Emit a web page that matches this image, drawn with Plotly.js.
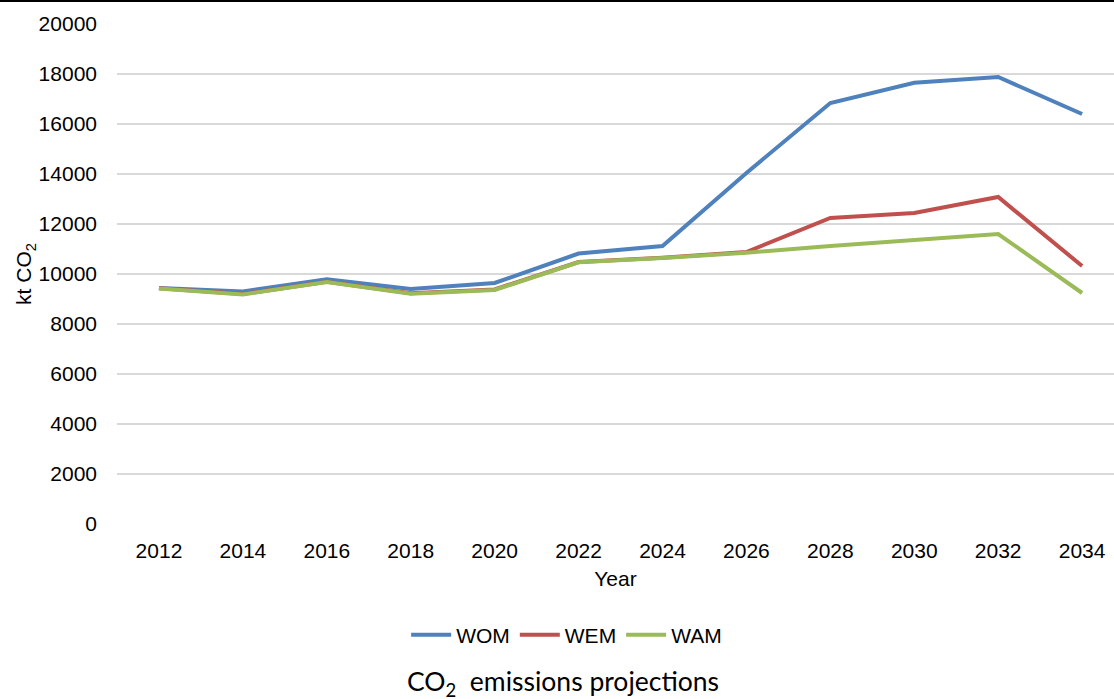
<!DOCTYPE html>
<html>
<head>
<meta charset="utf-8">
<script src="https://cdn.plot.ly/plotly-3.0.1.min.js"></script>
<style>
  html, body { margin: 0; padding: 0; background: #fff; }
  #chart { width: 1114px; height: 699px; box-sizing: border-box; border-top: 2px solid #000; }
</style>
</head>
<body>
<div id="chart"></div>
<script>
const years = ["2012","2014","2016","2018","2020","2022","2024","2026","2028","2030","2032","2034"];
const wom = [9440, 9300, 9790, 9400, 9640, 10820, 11120, 14040, 16840, 17650, 17880, 16400];
const wem = [9430, 9200, 9690, 9230, 9380, 10480, 10650, 10880, 12240, 12440, 13080, 10320];
const wam = [9420, 9180, 9680, 9210, 9360, 10470, 10640, 10850, 11120, 11360, 11600, 9240];
const yTicks = [0, 2000, 4000, 6000, 8000, 10000, 12000, 14000, 16000, 18000, 20000];

const font = "'Liberation Sans', Arial, sans-serif";
const mk = (name, y, color) => ({
  type: "scatter", mode: "lines", name: name, x: years, y: y,
  line: { color: color, width: 4 }
});

const data = [
  mk("WOM", wom, "#4F81BD"),
  mk("WEM", wem, "#C0504D"),
  mk("WAM", wam, "#9BBB59")
];

const layout = {
  width: 1114, height: 697,
  margin: { l: 117, r: 0, t: 22, b: 175 },
  paper_bgcolor: "#fff", plot_bgcolor: "#fff",
  font: { family: font, size: 21, color: "#000" },
  showlegend: true,
  legend: { orientation: "h", x: 0.451, xanchor: "center", y: -0.222, yanchor: "middle",
            font: { family: font, size: 21, color: "#000" }, itemwidth: 40 },
  xaxis: {
    type: "category", range: [-0.5, 11.38],
    showgrid: false, zeroline: false, showline: false, ticks: "", ticklabelstandoff: 12,
    tickfont: { family: font, size: 21, color: "#000" },
    title: { text: "Year", font: { family: font, size: 21, color: "#000" }, standoff: 10 }
  },
  yaxis: {
    range: [0, 20000], tickvals: yTicks, ticktext: yTicks.map(String),
    showgrid: true, gridcolor: "#d9d9d9", gridwidth: 1.5,
    zeroline: false, showline: false, ticks: "", ticklabelstandoff: 19,
    tickfont: { family: font, size: 21, color: "#000" },
    title: { text: "kt CO<sub>2</sub>", font: { family: font, size: 21, color: "#000" }, standoff: 0 }
  },
  annotations: [{
    xref: "paper", yref: "paper", x: 0.447, y: -0.317, xanchor: "center", yanchor: "middle",
    showarrow: false, text: "CO<sub>2</sub>  emissions projections",
    font: { family: "Lato, Carlito, Calibri, sans-serif", size: 26.5, color: "#000" }
  }]
};

Plotly.newPlot("chart", data, layout, { displayModeBar: false, staticPlot: true });
</script>
</body>
</html>
